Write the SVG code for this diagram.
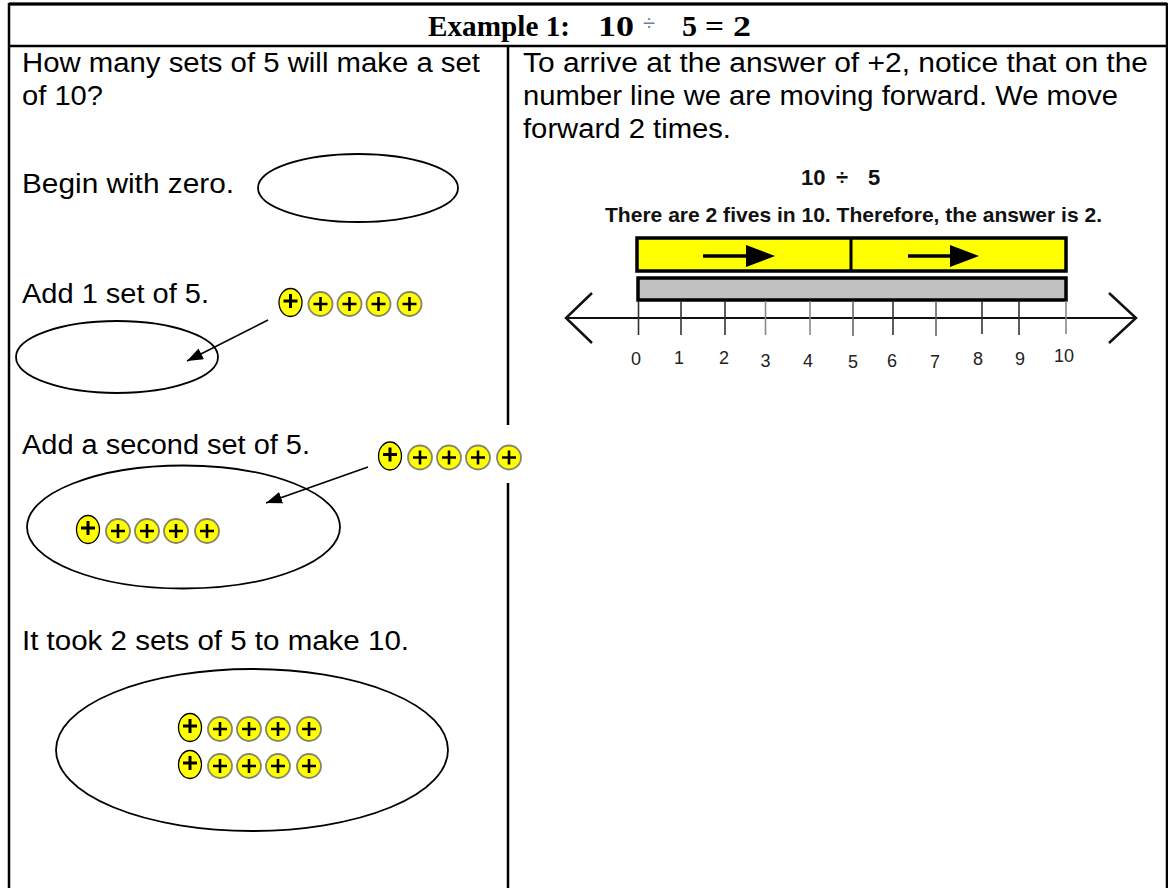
<svg xmlns="http://www.w3.org/2000/svg" xmlns:xlink="http://www.w3.org/1999/xlink" width="1168" height="888" viewBox="0 0 1168 888">
<style>
.grid{stroke:#000;stroke-width:2.5;fill:none}
.body{font-family:"Liberation Sans",Arial,sans-serif;font-size:27px;fill:#000}
.title{font-family:"Liberation Serif","Times New Roman",serif;font-size:30px;font-weight:bold;fill:#000}
.oval{fill:none;stroke:#000;stroke-width:1.8}
.c1{fill:#ffff00;stroke:#000;stroke-width:1.3}
.c2{fill:#ffff00;stroke:#85856a;stroke-width:1.8}
.p1{stroke:#000;stroke-width:3;fill:none}
.p2{stroke:#000;stroke-width:2.6;fill:none}
.conn{stroke:#000;stroke-width:1.6;fill:none}
.nl{font-family:"Liberation Sans",Arial,sans-serif;font-weight:bold;fill:#111}
.lab{font-family:"Liberation Sans",Arial,sans-serif;font-size:18px;fill:#222;text-anchor:middle}
.bar{stroke:#000;stroke-width:3.5}
</style>
<defs>
<marker id="ah" viewBox="0 0 16 12" refX="16" refY="6" markerWidth="16" markerHeight="12" markerUnits="userSpaceOnUse" orient="auto">
<path d="M0,0 L16,6 L0,12 z" fill="#000"/>
</marker>
<g id="set5">
<ellipse cx="0" cy="-1.5" rx="11.5" ry="14" class="c1"/>
<path d="M-7,-3H7M0,-10V4" class="p1"/>
<circle cx="30" cy="0" r="12" class="c2"/>
<path d="M23,0H37M30,-7V7" class="p2"/>
<circle cx="59" cy="0" r="12" class="c2"/>
<path d="M52,0H66M59,-7V7" class="p2"/>
<circle cx="88" cy="0" r="12" class="c2"/>
<path d="M81,0H95M88,-7V7" class="p2"/>
<circle cx="119" cy="0" r="12" class="c2"/>
<path d="M112,0H126M119,-7V7" class="p2"/>
</g>
</defs>
<rect width="1168" height="888" fill="#fff"/>

<g id="table">
<path class="grid" d="M9,4H1167M9,46H1167M9,3V888M1167,3V888M508,46V425M508,483V888" />
<path d="M9,4H1167" stroke="#000" stroke-width="3"/>
</g>

<g id="header">
<text class="title" x="428" y="36" textLength="142" lengthAdjust="spacingAndGlyphs">Example 1:</text>
<text class="title" x="598" y="36" textLength="36" lengthAdjust="spacingAndGlyphs">10</text>
<text x="643" y="30" font-family="'Liberation Sans',Arial,sans-serif" font-size="22" fill="#6f7f99">÷</text>
<text class="title" x="682" y="36">5</text>
<text class="title" x="705" y="36" textLength="19" lengthAdjust="spacingAndGlyphs">=</text>
<text class="title" x="733" y="36" textLength="18" lengthAdjust="spacingAndGlyphs">2</text>
</g>

<g id="left-intro">
<text class="body" x="22" y="72" textLength="458" lengthAdjust="spacingAndGlyphs">How many sets of 5 will make a set</text>
<text class="body" x="22" y="105" textLength="81" lengthAdjust="spacingAndGlyphs">of 10?</text>
</g>

<g id="step-zero">
<text class="body" x="22" y="193" textLength="212" lengthAdjust="spacingAndGlyphs">Begin with zero.</text>
<ellipse class="oval" cx="358" cy="188" rx="100" ry="34"/>
</g>

<g id="step-one">
<text class="body" x="22" y="303" textLength="187" lengthAdjust="spacingAndGlyphs">Add 1 set of 5.</text>
<use xlink:href="#set5" href="#set5" x="290.5" y="304"/>
<ellipse class="oval" cx="117" cy="357" rx="101" ry="36"/>
</g>

<g id="step-two">
<text class="body" x="22" y="454" textLength="288" lengthAdjust="spacingAndGlyphs">Add a second set of 5.</text>
<use xlink:href="#set5" href="#set5" x="390" y="457.5"/>
<ellipse class="oval" cx="183.5" cy="527" rx="156.5" ry="61.5"/>
<use xlink:href="#set5" href="#set5" x="88" y="531"/>
</g>

<g id="step-result">
<text class="body" x="22" y="650" textLength="387" lengthAdjust="spacingAndGlyphs">It took 2 sets of 5 to make 10.</text>
<ellipse class="oval" cx="252" cy="750" rx="196" ry="81"/>
<use xlink:href="#set5" href="#set5" x="190" y="729"/>
<use xlink:href="#set5" href="#set5" x="190" y="766"/>
</g>

<g id="connectors">
<line class="conn" x1="268" y1="320" x2="187" y2="361" marker-end="url(#ah)"/>
<line class="conn" x1="368" y1="467" x2="266" y2="503" marker-end="url(#ah)"/>
</g>

<g id="right-text">
<text class="body" x="523" y="72" textLength="625" lengthAdjust="spacingAndGlyphs">To arrive at the answer of +2, notice that on the</text>
<text class="body" x="523" y="105" textLength="595" lengthAdjust="spacingAndGlyphs">number line we are moving forward. We move</text>
<text class="body" x="523" y="138" textLength="208" lengthAdjust="spacingAndGlyphs">forward 2 times.</text>
</g>

<g id="number-line">
<text class="nl" x="801" y="185" font-size="22">10</text>
<text class="nl" x="836" y="185" font-size="22">÷</text>
<text class="nl" x="868" y="185" font-size="22">5</text>
<text class="nl" x="605" y="222" font-size="21" textLength="497" lengthAdjust="spacingAndGlyphs">There are 2 fives in 10. Therefore, the answer is 2.</text>
<rect class="bar" x="637" y="238" width="429" height="33" fill="#ffff00"/>
<line x1="851" y1="238" x2="851" y2="271" stroke="#000" stroke-width="3"/>
<line x1="703" y1="256" x2="748" y2="256" stroke="#000" stroke-width="3.5"/>
<polygon points="746,245 775,256 746,267" fill="#000"/>
<line x1="908" y1="256" x2="952" y2="256" stroke="#000" stroke-width="3.5"/>
<polygon points="950,245 979,256 950,267" fill="#000"/>
<rect class="bar" x="638" y="278" width="428" height="22" fill="#c0c0c0"/>
<line x1="566" y1="318" x2="1136" y2="318" stroke="#111" stroke-width="2"/>
<polyline points="592,293 566,318 592,343" fill="none" stroke="#111" stroke-width="2.5"/>
<polyline points="1109,293 1136,318 1109,343" fill="none" stroke="#111" stroke-width="2.5"/>
<g stroke-width="1.6">
<line x1="638.5" y1="301" x2="638.5" y2="335" stroke="#333"/>
<line x1="681" y1="301" x2="681" y2="335" stroke="#333"/>
<line x1="725" y1="301" x2="725" y2="335" stroke="#333"/>
<line x1="765.5" y1="301" x2="765.5" y2="335" stroke="#888"/>
<line x1="810" y1="301" x2="810" y2="335" stroke="#888"/>
<line x1="853" y1="301" x2="853" y2="336" stroke="#666"/>
<line x1="893" y1="301" x2="893" y2="335" stroke="#333"/>
<line x1="936" y1="301" x2="936" y2="336" stroke="#666"/>
<line x1="982" y1="301" x2="982" y2="334" stroke="#333"/>
<line x1="1019" y1="301" x2="1019" y2="335" stroke="#333"/>
<line x1="1066" y1="301" x2="1066" y2="334" stroke="#888"/>
</g>
<text class="lab" x="636" y="365">0</text>
<text class="lab" x="679" y="364">1</text>
<text class="lab" x="724" y="364">2</text>
<text class="lab" x="765.5" y="367">3</text>
<text class="lab" x="808" y="367">4</text>
<text class="lab" x="853" y="368">5</text>
<text class="lab" x="892" y="367">6</text>
<text class="lab" x="935" y="368">7</text>
<text class="lab" x="978" y="365">8</text>
<text class="lab" x="1020" y="365">9</text>
<text class="lab" x="1064" y="362">10</text>
</g>
</svg>
